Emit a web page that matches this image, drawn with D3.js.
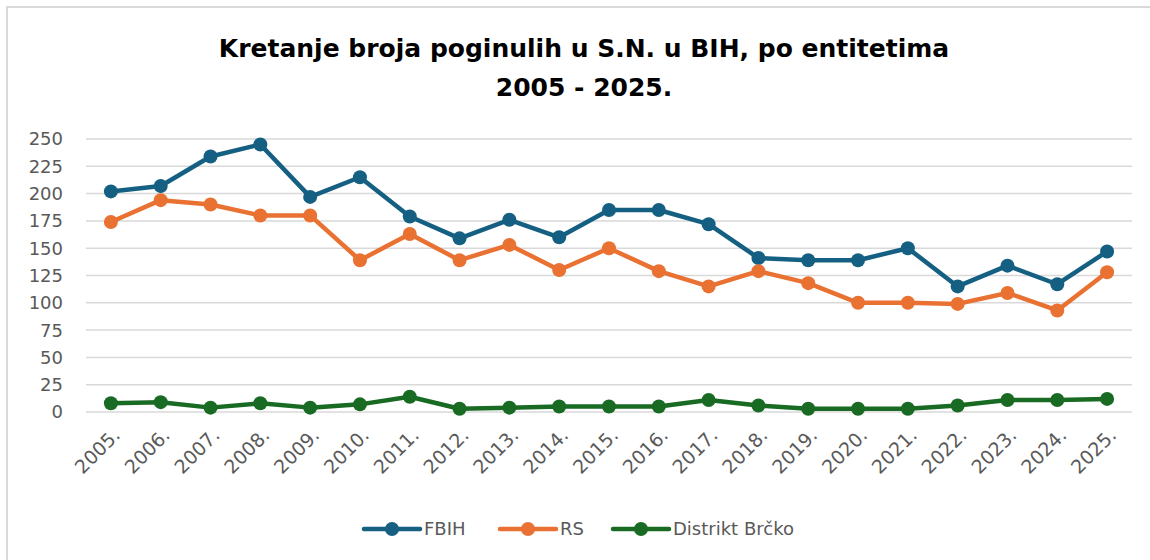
<!DOCTYPE html>
<html>
<head>
<meta charset="utf-8">
<script src="https://cdn.jsdelivr.net/npm/d3@7"></script>
<style>
  body { margin: 0; background: #fff; }
  text { font-family: "DejaVu Sans", sans-serif; }
</style>
</head>
<body>
<div id="chart"></div>
<script>
const years = ["2005.", "2006.", "2007.", "2008.", "2009.", "2010.", "2011.", "2012.", "2013.", "2014.",
  "2015.", "2016.", "2017.", "2018.", "2019.", "2020.", "2021.", "2022.", "2023.", "2024.", "2025."];
const fbih = [202, 207, 234, 245, 197, 215, 179, 159, 176, 160, 185, 185, 172, 141, 139, 139, 150, 115, 134, 117, 147];
const rs = [174, 194, 190, 180, 180, 139, 163, 139, 153, 130, 150, 129, 115, 129, 118, 100, 100, 99, 109, 93, 128];
const brcko = [8, 9, 4, 8, 4, 7, 14, 3, 4, 5, 5, 5, 11, 6, 3, 3, 3, 6, 11, 11, 12];
const yTicks = [0, 25, 50, 75, 100, 125, 150, 175, 200, 225, 250];

const series = [
  { name: "FBIH", values: fbih, color: "#156082" },
  { name: "RS", values: rs, color: "#E97132" },
  { name: "Distrikt Brčko", values: brcko, color: "#196B24" }
];

const width = 1150;
const height = 560;
const margin = { left: 86, right: 18, top: 139, bottom: 148 };

const svg = d3.select("#chart")
  .append("svg")
  .attr("width", width)
  .attr("height", height);

// okvir
svg.append("path")
  .attr("d", `M7,${height} L7,7 L${width},7`)
  .attr("fill", "none")
  .attr("stroke", "#d9d9d9")
  .attr("stroke-width", 2);

const x = d3.scaleBand()
  .domain(years)
  .range([margin.left, width - margin.right]);

const y = d3.scaleLinear()
  .domain([0, 250])
  .range([height - margin.bottom, margin.top]);

// mreža
svg.append("g")
  .selectAll("line")
  .data(yTicks)
  .join("line")
  .attr("x1", margin.left)
  .attr("x2", width - margin.right)
  .attr("y1", d => y(d))
  .attr("y2", d => y(d))
  .attr("stroke", "#d9d9d9")
  .attr("stroke-width", 1.5);

// y osa
svg.append("g")
  .selectAll("text")
  .data(yTicks)
  .join("text")
  .attr("x", 63)
  .attr("y", d => y(d))
  .attr("dy", "0.36em")
  .attr("text-anchor", "end")
  .attr("font-size", "18px")
  .attr("fill", "#595959")
  .text(d => d);

// x osa
const cx = d => x(d) + x.bandwidth() / 2;
svg.append("g")
  .selectAll("text")
  .data(years)
  .join("text")
  .attr("transform", d => `translate(${cx(d) + 1},${427}) rotate(-45)`)
  .attr("dy", "0.7em")
  .attr("text-anchor", "end")
  .attr("font-size", "19px")
  .attr("fill", "#595959")
  .text(d => d);

const line = d3.line()
  .x((d, i) => cx(years[i]))
  .y(d => y(d));

series.forEach(s => {
  const g = svg.append("g");
  g.append("path")
    .datum(s.values)
    .attr("d", line)
    .attr("fill", "none")
    .attr("stroke", s.color)
    .attr("stroke-width", 4.5)
    .attr("stroke-linejoin", "round");
  g.selectAll("circle")
    .data(s.values)
    .join("circle")
    .attr("cx", (d, i) => cx(years[i]))
    .attr("cy", d => y(d))
    .attr("r", 7)
    .attr("fill", s.color);
});

// naslov
const title = svg.append("text")
  .attr("x", 584)
  .attr("text-anchor", "middle")
  .attr("font-family", "'Liberation Sans', Arial, sans-serif")
  .attr("font-weight", "bold")
  .attr("font-size", "25px")
  .attr("fill", "#000");
title.append("tspan").attr("x", 584).attr("y", 57).text("Kretanje broja poginulih u S.N. u BIH, po entitetima");
title.append("tspan").attr("x", 584).attr("y", 96).text("2005 - 2025.");

// legenda
const legendX = [364, 500, 613];
const legend = svg.append("g");
series.forEach((s, i) => {
  const lg = legend.append("g").attr("transform", `translate(${legendX[i]},529)`);
  lg.append("line")
    .attr("x1", 0).attr("x2", 56)
    .attr("stroke", s.color)
    .attr("stroke-width", 4.5)
    .attr("stroke-linecap", "round");
  lg.append("circle")
    .attr("cx", 28)
    .attr("r", 7)
    .attr("fill", s.color);
  lg.append("text")
    .attr("x", 60)
    .attr("dy", "0.36em")
    .attr("font-size", "18px")
    .attr("fill", "#595959")
    .text(s.name);
});
</script>
</body>
</html>
